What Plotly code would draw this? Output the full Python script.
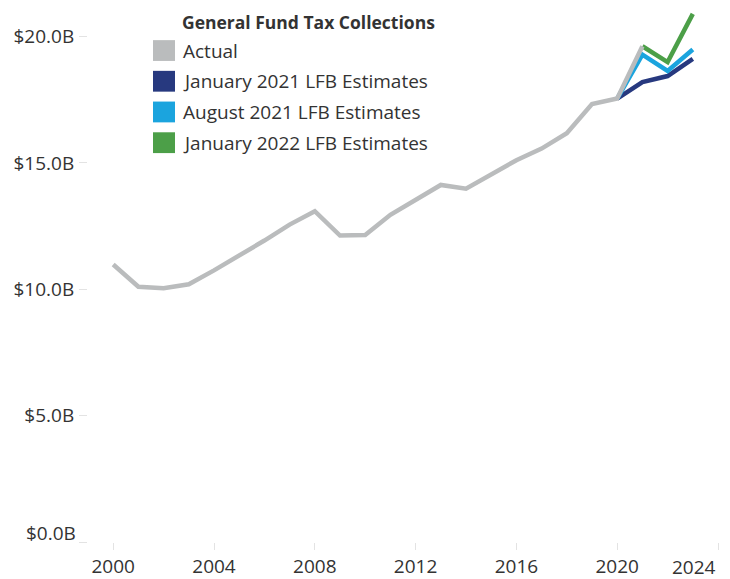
import plotly.graph_objects as go

# General Fund tax collections, $ billions, by fiscal year
years_actual = list(range(2000, 2022))
actual = [10.98, 10.10, 10.04, 10.20, 10.75, 11.33, 11.93, 12.56, 13.09, 12.13, 12.15,
          12.95, 13.54, 14.13, 13.98, 14.53, 15.11, 15.57, 16.18, 17.33, 17.55, 19.62]

years_jan21 = [2020, 2021, 2022, 2023]
jan21 = [17.55, 18.20, 18.44, 19.12]

years_aug21 = [2020, 2021, 2022, 2023]
aug21 = [17.55, 19.29, 18.64, 19.49]

years_jan22 = [2021, 2022, 2023]
jan22 = [19.62, 18.99, 20.90]

series_names = ["Actual", "January 2021 LFB Estimates", "August 2021 LFB Estimates",
                "January 2022 LFB Estimates"]
colors = ["#babcbd", "#27397f", "#1ba4de", "#4c9f48"]

y_tickvals = [0, 5, 10, 15, 20]
y_ticktext = ["", "$5.0B", "$10.0B", "$15.0B", "$20.0B"]
x_tickvals = [2000, 2004, 2008, 2012, 2016, 2020, 2024]
x_ticktext = ["2000", "2004", "2008", "2012", "2016", "2020", ""]

FONT = "Open Sans"
TEXT = "#333333"

# plot area in pixels
L, R, T, B = 88, 730, 0, 547


def px_x(px):
    return (px - L) / (R - L)


def px_y(py):
    return (B - py) / (B - T)


fig = go.Figure()

for xs, ys, c in [(years_jan21, jan21, colors[1]), (years_aug21, aug21, colors[2]),
                  (years_jan22, jan22, colors[3]), (years_actual, actual, colors[0])]:
    fig.add_trace(go.Scatter(
        x=xs, y=ys, mode="lines",
        line=dict(color=c, width=4.5),
        showlegend=False, hoverinfo="skip"
    ))

# legend drawn by hand (square swatches)
shapes = []
annotations = []
row_y = [51, 82, 113, 144]
for name, c, ry in zip(series_names, colors, row_y):
    shapes.append(dict(
        type="rect", xref="paper", yref="paper",
        x0=px_x(153), x1=px_x(175), y0=px_y(ry + 10.5), y1=px_y(ry - 10.5),
        fillcolor=c, line=dict(width=0)
    ))
    annotations.append(dict(
        text=name, xref="paper", yref="paper", x=px_x(181), y=px_y(ry),
        xanchor="left", yanchor="middle", showarrow=False,
        font=dict(family=FONT, size=19, color=TEXT)
    ))
annotations.append(dict(
    text="<b>General Fund Tax Collections</b>", xref="paper", yref="paper",
    x=px_x(180), y=px_y(22), xanchor="left", yanchor="middle", showarrow=False,
    font=dict(family=FONT, size=17.5, color=TEXT)
))

# edge labels that sit inside the frame
annotations.append(dict(
    text="$0.0B", xref="paper", yref="y", x=px_x(78), y=0, yshift=-6,
    xanchor="right", yanchor="bottom", showarrow=False,
    font=dict(family=FONT, size=19, color=TEXT)
))
annotations.append(dict(
    text="2024", xref="x", yref="paper", x=2024, y=px_y(572),
    xanchor="right", yanchor="middle", showarrow=False,
    font=dict(family=FONT, size=19, color=TEXT)
))

fig.update_layout(
    width=730, height=579,
    margin=dict(l=L, r=730 - R, t=T, b=579 - B),
    plot_bgcolor="white", paper_bgcolor="white",
    font=dict(family=FONT, size=19, color=TEXT),
    shapes=shapes, annotations=annotations,
    showlegend=False,
)
fig.update_xaxes(
    range=[1999.0, 2024.476],
    tickvals=x_tickvals, ticktext=x_ticktext,
    ticks="outside", ticklen=7, tickcolor="#e3e3e3",
    showgrid=False, zeroline=False, showline=False,
    ticklabelstandoff=0
)
fig.update_yaxes(
    range=[0, 21.45],
    tickvals=y_tickvals, ticktext=y_ticktext,
    ticks="outside", ticklen=8, tickcolor="#e3e3e3",
    showgrid=False, zeroline=False, showline=False,
    ticklabelstandoff=1
)

fig.write_html(
    "out.html",
    config={"displayModeBar": False},
    post_script="document.body.style.margin='0';document.body.style.overflow='hidden';"
)
